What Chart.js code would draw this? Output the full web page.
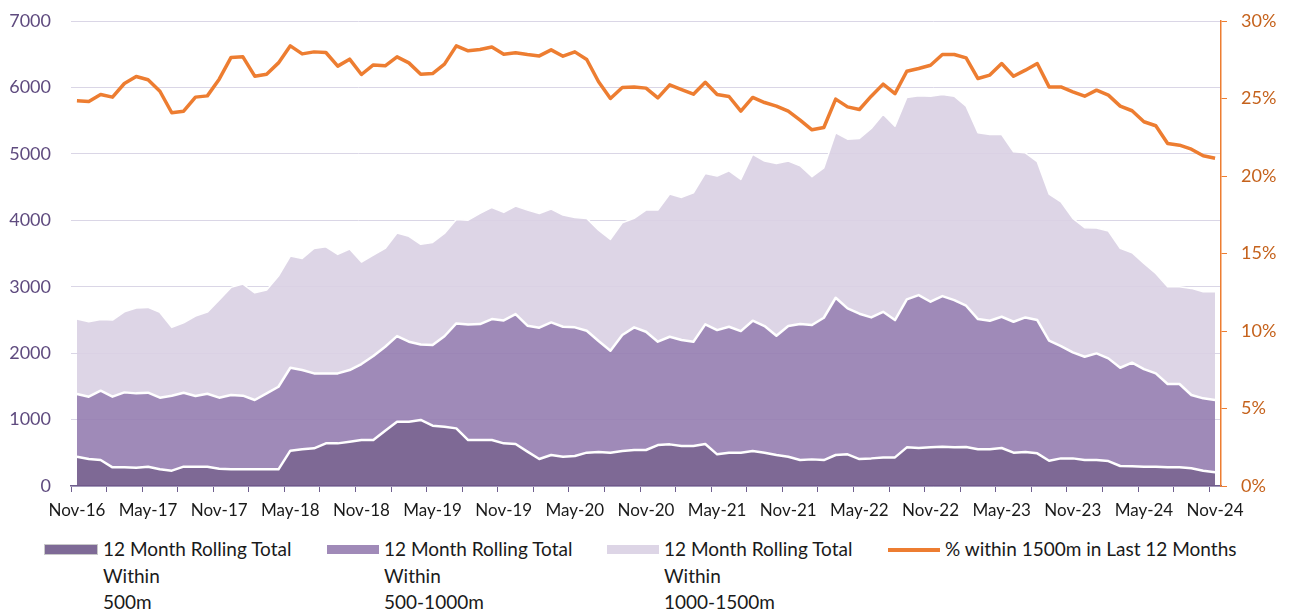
<!DOCTYPE html>
<html>
<head>
<meta charset="utf-8">
<script src="https://cdn.jsdelivr.net/npm/chart.js@4.4.1/dist/chart.umd.min.js"></script>
<style>
body { margin: 0; background: #fff; font-family: Lato, sans-serif; }
#wrap { position: relative; width: 1290px; height: 610px; overflow: hidden; }
.sw { position: absolute; width: 52px; height: 9px; }
.tx { position: absolute; font-size: 19px; line-height: 26.5px; color: #1a1a1a; white-space: nowrap; }
</style>
</head>
<body>
<div id="wrap">
  <canvas id="rollingChart" width="1290" height="530"></canvas>
  <div class="sw" style="left:45px;top:545px;background:#7e6a96;box-shadow:0 0 0 1px #c9c9c9"></div>
  <div class="tx" style="left:103px;top:536px">12 Month Rolling Total<br>Within<br>500m</div>
  <div class="sw" style="left:327px;top:545px;background:#a08ab8"></div>
  <div class="tx" style="left:384px;top:536px">12 Month Rolling Total<br>Within<br>500-1000m</div>
  <div class="sw" style="left:607px;top:545px;background:#ddd5e6"></div>
  <div class="tx" style="left:664px;top:536px">12 Month Rolling Total<br>Within<br>1000-1500m</div>
  <div class="sw" style="left:888px;top:548px;height:3.5px;background:#ed7d31"></div>
  <div class="tx" style="left:945px;top:536px">% within 1500m in Last 12 Months</div>
</div>
<script>
const months = [
  'Nov-16','Dec-16',
  'Jan-17','Feb-17','Mar-17','Apr-17','May-17','Jun-17','Jul-17','Aug-17','Sep-17','Oct-17','Nov-17','Dec-17',
  'Jan-18','Feb-18','Mar-18','Apr-18','May-18','Jun-18','Jul-18','Aug-18','Sep-18','Oct-18','Nov-18','Dec-18',
  'Jan-19','Feb-19','Mar-19','Apr-19','May-19','Jun-19','Jul-19','Aug-19','Sep-19','Oct-19','Nov-19','Dec-19',
  'Jan-20','Feb-20','Mar-20','Apr-20','May-20','Jun-20','Jul-20','Aug-20','Sep-20','Oct-20','Nov-20','Dec-20',
  'Jan-21','Feb-21','Mar-21','Apr-21','May-21','Jun-21','Jul-21','Aug-21','Sep-21','Oct-21','Nov-21','Dec-21',
  'Jan-22','Feb-22','Mar-22','Apr-22','May-22','Jun-22','Jul-22','Aug-22','Sep-22','Oct-22','Nov-22','Dec-22',
  'Jan-23','Feb-23','Mar-23','Apr-23','May-23','Jun-23','Jul-23','Aug-23','Sep-23','Oct-23','Nov-23','Dec-23',
  'Jan-24','Feb-24','Mar-24','Apr-24','May-24','Jun-24','Jul-24','Aug-24','Sep-24','Oct-24','Nov-24'
];

// 12 month rolling totals, per distance band
const within500 = [
  441,406,391,281,281,276,291,251,231,291,
  291,291,261,251,251,251,251,251,532,552,
  567,642,642,667,692,692,833,968,968,994,
  908,893,868,692,692,692,642,632,517,406,
  467,441,452,502,512,502,527,542,542,617,
  627,602,602,632,477,502,502,527,502,467,
  441,391,401,391,467,477,406,416,431,431,
  582,572,582,592,582,587,552,552,572,502,
  512,492,381,416,416,391,391,376,301,296,
  291,291,281,281,266,231,206
];
const within500to1000 = [
  944,939,1044,1064,1129,1119,1114,1079,1129,1114,
  1064,1099,1069,1119,1109,1044,1144,1244,1249,1194,
  1129,1054,1054,1079,1145,1265,1264,1290,1205,1136,
  1215,1362,1581,1742,1747,1822,1852,1957,1897,1978,
  1997,1958,1937,1837,1671,1535,1746,1847,1781,1556,
  1621,1596,1571,1802,1871,1897,1831,1962,1907,1796,
  1968,2048,2023,2143,2368,2198,2189,2123,2193,2068,
  2228,2303,2193,2268,2218,2128,1962,1937,1977,1972,
  2027,2007,1807,1692,1596,1556,1606,1546,1480,1561,
  1470,1405,1255,1255,1104,1089,1089
];
const within1000to1500 = [
  1129,1129,1074,1154,1214,1285,1285,1284,1029,1054,
  1204,1229,1470,1621,1681,1615,1556,1666,1681,1681,
  1882,1907,1792,1822,1535,1520,1481,1552,1587,1509,
  1545,1549,1566,1570,1666,1681,1626,1626,1741,1721,
  1706,1681,1656,1691,1671,1677,1691,1641,1832,1982,
  2148,2148,2243,2273,2319,2348,2284,2504,2484,2595,
  2484,2383,2233,2258,2484,2549,2639,2845,2976,2920,
  3041,3001,3096,3036,3071,3006,2805,2805,2745,2559,
  2479,2384,2208,2172,2018,1942,1887,1917,1797,1655,
  1591,1505,1465,1465,1606,1606,1631
];
// % within 1500m in last 12 months
const pctWithin1500 = [
  24.86,24.82,25.27,25.10,25.98,26.43,26.22,25.48,24.09,24.19,
  25.10,25.18,26.26,27.66,27.70,26.45,26.58,27.31,28.41,27.89,
  28.02,27.98,27.10,27.55,26.56,27.18,27.12,27.70,27.31,26.58,
  26.62,27.23,28.41,28.09,28.17,28.34,27.87,27.96,27.85,27.76,
  28.15,27.74,28.02,27.53,26.09,25.01,25.72,25.76,25.68,25.05,
  25.89,25.59,25.29,26.06,25.27,25.14,24.19,25.08,24.75,24.52,
  24.19,23.61,22.99,23.14,24.97,24.47,24.30,25.16,25.94,25.33,
  26.77,26.95,27.16,27.85,27.85,27.63,26.30,26.52,27.27,26.45,
  26.84,27.27,25.76,25.76,25.44,25.16,25.55,25.23,24.52,24.22,
  23.51,23.25,22.11,22.00,21.74,21.31,21.16
];
const leftTicks = [0, 1000, 2000, 3000, 4000, 5000, 6000, 7000];
const rightTicks = [0, 5, 10, 15, 20, 25, 30];

const axisPurple = '#6f5e8e';

document.addEventListener('DOMContentLoaded', () => {
  const ctx = document.getElementById('rollingChart');
  new Chart(ctx, {
    type: 'line',
    data: {
      labels: months,
      datasets: [
        {
          label: '12 Month Rolling Total Within 500m',
          data: within500,
          backgroundColor: 'rgba(112,89,138,0.9)',
          borderColor: '#ffffff',
          borderWidth: 2.5,
          fill: 'origin',
          pointRadius: 0,
          order: 1,
          yAxisID: 'y'
        },
        {
          label: '12 Month Rolling Total Within 500-1000m',
          data: within500to1000,
          backgroundColor: 'rgba(149,125,176,0.9)',
          borderColor: '#ffffff',
          borderWidth: 2.5,
          fill: '-1',
          pointRadius: 0,
          order: 1,
          yAxisID: 'y'
        },
        {
          label: '12 Month Rolling Total Within 1000-1500m',
          data: within1000to1500,
          backgroundColor: 'rgba(217,208,227,0.9)',
          borderColor: '#ffffff',
          borderWidth: 1.5,
          fill: '-1',
          pointRadius: 0,
          order: 1,
          yAxisID: 'y'
        },
        {
          label: '% within 1500m in Last 12 Months',
          data: pctWithin1500,
          borderColor: '#ed7d31',
          borderWidth: 3.5,
          fill: false,
          pointRadius: 0,
          order: 0,
          yAxisID: 'y1'
        }
      ]
    },
    options: {
      responsive: false,
      animation: false,
      layout: { padding: { top: 21, left: 0, right: 0, bottom: 0 } },
      elements: { line: { tension: 0, borderJoinStyle: 'round' } },
      plugins: { legend: { display: false }, tooltip: { enabled: false } },
      scales: {
        x: {
          offset: true,
          grid: {
            offset: true,
            drawOnChartArea: false,
            tickLength: 6,
            color: c => (c.index % 3 === 0 ? axisPurple : 'rgba(0,0,0,0)')
          },
          border: { color: axisPurple, width: 1.5 },
          ticks: {
            autoSkip: false,
            maxRotation: 0,
            padding: 8,
            color: '#1a1a1a',
            font: { family: 'Lato', size: 17 },
            callback: (v, i) => (i % 6 === 0 ? months[i] : '')
          },
          afterFit: s => { s.height = 44; }
        },
        y: {
          stacked: true,
          min: leftTicks[0],
          max: leftTicks[leftTicks.length - 1],
          afterBuildTicks: s => { s.ticks = leftTicks.map(v => ({ value: v })); },
          ticks: {
            padding: 4,
            color: '#5f4b7f',
            font: { family: 'Lato', size: 18, lineHeight: 0.8 },
            callback: v => String(v)
          },
          grid: { color: '#dad6e6', drawTicks: true, tickLength: 16, tickColor: 'rgba(0,0,0,0)' },
          border: { display: false },
          afterFit: s => { s.width = 71; }
        },
        y1: {
          position: 'right',
          min: rightTicks[0],
          max: rightTicks[rightTicks.length - 1],
          afterBuildTicks: s => { s.ticks = rightTicks.map(v => ({ value: v })); },
          ticks: {
            padding: 14,
            color: '#c5621c',
            font: { family: 'Lato', size: 18, lineHeight: 0.8 },
            callback: v => v + '%'
          },
          grid: { drawOnChartArea: false, color: '#ed7d31', tickLength: 6 },
          border: { color: '#ed7d31', width: 1.5 },
          afterFit: s => { s.width = 69; }
        }
      }
    }
  });
});
</script>
</body>
</html>
